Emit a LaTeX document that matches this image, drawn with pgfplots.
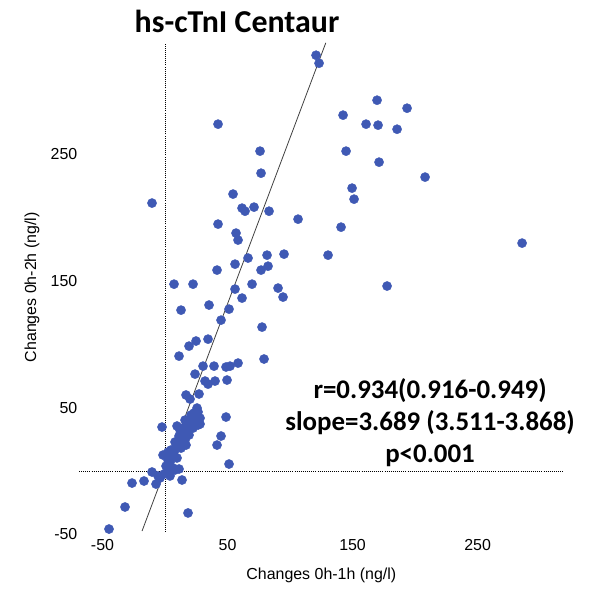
\documentclass[border=0pt]{standalone}
\usepackage{fontspec}
\setmainfont{Liberation Sans}
\newfontfamily\calibri{Carlito}
\usepackage{pgfplots}
\usepackage{pgfplotstable}
\pgfplotsset{compat=1.18}
\definecolor{dotblue}{RGB}{63,89,180}

% changes 0h-1h (x) against 0h-2h (y), ng/l
\pgfplotstableread{
x y
42.4 273.8
76.0 252.5
76.8 235.1
54.4 218.6
-10.4 211.5
61.6 207.5
64.0 205.1
71.2 208.3
83.2 205.1
106.4 198.8
42.4 194.9
56.8 187.8
58.4 182.3
66.4 168.1
81.6 170.4
95.2 171.2
56.0 163.3
41.6 158.6
76.8 158.6
82.4 161.7
7.2 147.5
22.4 147.5
69.6 147.5
56.0 143.6
90.4 144.4
61.6 136.5
94.4 137.3
12.8 127.0
35.2 131.0
51.2 127.8
44.8 119.1
77.6 113.6
24.8 102.6
19.2 98.6
34.4 104.1
11.2 90.7
79.2 88.4
30.4 82.8
39.2 82.8
48.8 82.1
52.0 82.8
58.4 85.2
24.0 76.5
32.0 71.0
34.4 68.6
40.0 71.0
49.6 71.8
16.8 60.0
20.0 56.8
27.2 60.8
48.8 42.6
28.0 37.1
22.4 42.6
-2.4 34.7
9.6 35.5
44.8 27.6
41.6 20.5
51.2 5.5
-1.6 12.6
-10.4 -0.8
11.2 1.6
-16.8 -7.9
-26.4 -9.5
-7.2 -10.3
13.6 -7.1
-32.0 -28.4
18.4 -33.1
-44.8 -45.8
0.8 3.9
2.4 8.7
4.0 7.1
5.6 12.6
4.8 16.6
7.2 15.0
8.8 18.9
8.0 22.9
10.4 21.3
12.0 24.5
11.2 27.6
13.6 26.0
15.2 30.0
14.4 33.9
16.8 32.3
18.4 35.5
17.6 39.5
20.0 37.9
21.6 40.2
20.8 44.2
23.2 45.8
24.8 42.6
26.4 46.6
16.0 24.5
12.8 18.1
9.6 10.3
6.4 2.4
3.2 -0.8
-0.8 -2.4
-4.0 -5.5
-5.6 -3.9
4.0 -3.9
8.0 0.8
16.8 20.5
19.2 28.4
22.4 33.9
24.8 38.7
28.0 41.8
25.6 49.7
2.4 15.0
12.0 32.3
16.0 40.2
26.4 36.3
120.8 328.2
123.2 321.9
169.6 292.7
193.6 286.4
142.4 280.9
160.8 273.8
170.4 273.0
185.6 269.8
144.8 252.5
171.2 243.8
208.0 232.0
149.6 223.3
151.2 214.6
140.8 192.5
130.4 170.4
285.6 179.9
177.6 146.0
}\changes

\begin{document}
\begin{tikzpicture}
\begin{axis}[
  scale only axis,
  width=487.5bp, height=494bp,
  xmin=-70, xmax=320, ymin=-50, ymax=340,
  axis line style={draw=none},
  major tick length=0pt,
  xtick={-50,50,150,250}, ytick={-50,50,150,250},
  xticklabels={-50,50,150,250}, yticklabels={-50,50,150,250},
  ticklabel style={font=\fontsize{16}{19}\selectfont},
  xticklabel style={anchor=center, yshift=-10.6bp},
  yticklabel style={anchor=east, inner sep=0pt},
  xlabel={Changes 0h-1h (ng/l)},
  ylabel={Changes 0h-2h (ng/l)},
  every axis x label/.style={at={(rel axis cs:0.5,0)}, anchor=center, yshift=-40.6bp,
    font=\fontsize{16}{19}\selectfont},
  every axis y label/.style={at={(rel axis cs:0,0.5)}, anchor=center, rotate=90, yshift=45.5bp,
    font=\fontsize{16}{19}\selectfont},
  clip=false,
]
\addplot[only marks, mark=*, mark size=4.6bp,
  mark options={fill=dotblue, draw=dotblue}] table {\changes};

\addplot[black, line width=0.9pt, dash pattern=on 0.9pt off 1.2pt] coordinates {(0,-48.1) (0,337.8)};
\addplot[black, line width=0.9pt, dash pattern=on 0.9pt off 1.2pt] coordinates {(-68.8,0) (318.4,0)};
\addplot[black!75, line width=0.8pt] coordinates {(-18.4,-47.4) (128.6,338)};

\node[font=\calibri\bfseries\fontsize{32}{38}\selectfont] at (axis cs:57.6,355) {hs-cTnI Centaur};
\node[font=\calibri\bfseries\fontsize{27}{32}\selectfont, align=center] at (axis cs:212,38.5)
  {r=0.934(0.916-0.949)\\slope=3.689 (3.511-3.868)\\p<0.001};

\coordinate (ll) at (axis cs:-132,-94.7);
\coordinate (ur) at (axis cs:339.2,371.8);
\end{axis}
\pgfresetboundingbox
\path[use as bounding box] (ll) rectangle (ur);
\end{tikzpicture}
\end{document}
